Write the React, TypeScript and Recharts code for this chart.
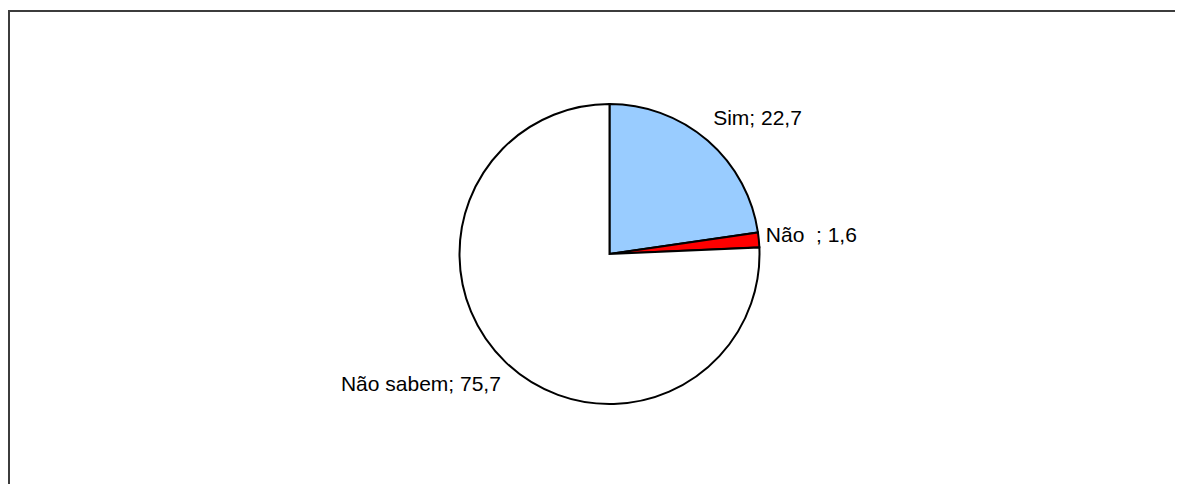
import React from "react";
import { PieChart, Pie, Cell } from "recharts";

const categories = ["Sim", "Não  ", "Não sabem"];
const values = [22.7, 1.6, 75.7];
const valueLabels = ["22,7", "1,6", "75,7"];
const colors = ["#99CCFF", "#FF0000", "#FFFFFF"];
// label nudges (dx, dy) relative to the point just outside each slice
const labelNudges: [number, number][] = [[-1, -8], [-3, 3], [2, 21]];

const data = categories.map((name, i) => ({ name, value: values[i], text: valueLabels[i] }));

const RAD = Math.PI / 180;

const renderLabel = (props: any) => {
  const { cx, cy, midAngle, outerRadius, index } = props;
  const r = outerRadius + 10;
  const c = Math.cos(midAngle * RAD);
  const s = Math.sin(midAngle * RAD);
  const px = cx + r * c;
  const py = cy - r * s;
  const [dx, dy] = labelNudges[index];
  return (
    <text
      x={px + dx}
      y={py + dy}
      textAnchor={c >= 0 ? "start" : "end"}
      fill="#000"
      fontSize={21}
      fontFamily="'Liberation Sans', Arial, sans-serif"
      style={{ whiteSpace: "pre" }}
    >
      {`${data[index].name}; ${data[index].text}`}
    </text>
  );
};

export default function App() {
  return (
    <div style={{ position: "relative", width: 1175, height: 474, marginTop: 2 }}>
      <div
        style={{
          position: "absolute",
          left: 0,
          top: 0,
          right: 0,
          bottom: 0,
          borderTop: "2px solid #3c3c3c",
          borderLeft: "2px solid #3c3c3c",
        }}
      />
      <div style={{ position: "absolute", left: 0, top: 0 }}>
        <PieChart width={1175} height={474} margin={{ top: 0, right: 0, bottom: 0, left: 0 }}>
          <Pie
            data={data}
            dataKey="value"
            nameKey="name"
            cx={601.5}
            cy={244}
            outerRadius={150}
            startAngle={90}
            endAngle={-270}
            stroke="#000"
            strokeWidth={2}
            label={renderLabel}
            labelLine={false}
            isAnimationActive={false}
          >
            {data.map((d, i) => (
              <Cell key={d.name} fill={colors[i]} />
            ))}
          </Pie>
        </PieChart>
      </div>
    </div>
  );
}
